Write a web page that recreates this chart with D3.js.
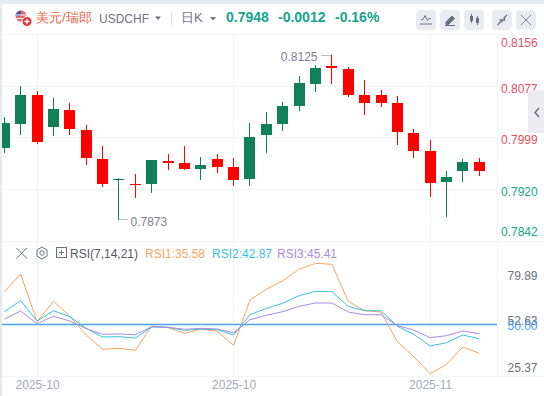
<!DOCTYPE html>
<html>
<head>
<meta charset="utf-8">
<script src="https://cdn.jsdelivr.net/npm/d3@7"></script>
<style>
    html, body { margin: 0; padding: 0; background: #fff; overflow: hidden; }
    svg { display: block; }
    text { font-family: "Liberation Sans", Arial, sans-serif; }
</style>
</head>
<body>
<svg id="chart" width="544" height="396"></svg>
<script>
const UP = '#0f8057';
const DOWN = '#ff0000';
const TEXT_UP = '#13a58a';
const TEXT_DOWN = '#e2525f';

// Daily candles.
const opens = [0.79834, 0.80201, 0.80644, 0.80155, 0.80415, 0.80109, 0.79666, 0.7934, 0.7928, 0.7928, 0.79636, 0.79605, 0.79514, 0.79666, 0.79544, 0.79361, 0.80033, 0.80201, 0.80476, 0.80812, 0.81087, 0.81041, 0.80644, 0.80644, 0.80522, 0.80063, 0.79788, 0.79315, 0.79483, 0.7962];
const closes = [0.80216, 0.80644, 0.79926, 0.8043, 0.80124, 0.79682, 0.79284, 0.79356, 0.79265, 0.79651, 0.79605, 0.79514, 0.79575, 0.79544, 0.79346, 0.80002, 0.80201, 0.80476, 0.80827, 0.81056, 0.81056, 0.80644, 0.80522, 0.80522, 0.80079, 0.79788, 0.793, 0.79391, 0.7962, 0.7948];
const highs = [0.80308, 0.80781, 0.80705, 0.80598, 0.80522, 0.80186, 0.79865, 0.79376, 0.79437, 0.79651, 0.79743, 0.79865, 0.79697, 0.79743, 0.79682, 0.80216, 0.80384, 0.80537, 0.80934, 0.81102, 0.8125, 0.81071, 0.80873, 0.8072, 0.80628, 0.80124, 0.79956, 0.79483, 0.79666, 0.79682];
const lows = [0.79758, 0.80033, 0.79895, 0.80018, 0.80033, 0.79574, 0.79239, 0.7873, 0.79071, 0.79147, 0.79498, 0.79498, 0.79346, 0.79452, 0.79254, 0.79254, 0.79758, 0.80094, 0.80399, 0.80689, 0.80812, 0.80613, 0.80338, 0.8046, 0.7988, 0.79682, 0.79086, 0.7878, 0.79315, 0.79407];

const rsi1 = [66.4, 75.25, 51.4, 61.6, 54.1, 44.75, 37.6, 38.1, 37.1, 49.25, 48.4, 45.6, 47.6, 46.6, 39.6, 62.25, 67.6, 71.9, 77.6, 80.6, 80.1, 61.6, 56.9, 56.25, 41.4, 33.9, 25.37, 30.1, 38.75, 35.58];
const rsi2 = [56.4, 61.9, 51.75, 56.9, 53.9, 48.1, 43.75, 43.9, 43.25, 48.75, 48.6, 47.1, 47.75, 47.4, 44.75, 54.9, 58.1, 60.6, 64.4, 66.6, 66.4, 59.1, 56.9, 56.9, 49.1, 45.1, 39.25, 40.9, 44.75, 42.87];
const rsi3 = [52.75, 56.75, 50.4, 54.1, 51.75, 47.9, 45.1, 45.25, 44.9, 48.9, 48.6, 47.6, 48.1, 47.75, 45.9, 52.4, 54.6, 56.4, 59.1, 60.75, 60.75, 56.25, 54.9, 54.9, 49.4, 47.25, 43.4, 44.4, 46.75, 45.41];

const priceTicks = [0.8156, 0.8077, 0.7999, 0.7920, 0.7842];
const rsiTicks = [79.89, 52.63, 25.37];
const monthLabels = [[2, '2025-10'], [14, '2025-10'], [26, '2025-11']];

const svg = d3.select('#chart');

const plot = { left: 2, right: 497, top: 34, mid: 241, bottom: 376 };

const x = d3.scaleLinear().domain([0, 29]).range([4.3, 479.3]);
const y = d3.scaleLinear().domain([0.7842, 0.8156]).range([240.6, 35]);
const yRsi = d3.scaleLinear().domain([24.25, 91.75]).range([376, 241]);

const px = v => Math.floor(v) + 0.5;

// Page frame and card.
svg.append('rect').attr('width', 544).attr('height', 396).attr('fill', '#e6ebf2');
svg.append('path').attr('d', 'M2,396V8Q2,4 6,4H544V396Z').attr('fill', '#fff');

// Grid.
const grid = svg.append('g').attr('stroke', '#f3f4f6').attr('fill', 'none');
[34, 241, 376].forEach(v => grid.append('line').attr('x1', plot.left).attr('x2', 544).attr('y1', v + 0.5).attr('y2', v + 0.5));
priceTicks.slice(1, 4).forEach(v => {
    grid.append('line').attr('x1', plot.left).attr('x2', plot.right).attr('y1', px(y(v))).attr('y2', px(y(v)));
});
monthLabels.forEach(([i]) => {
    grid.append('line').attr('x1', px(x(i))).attr('x2', px(x(i))).attr('y1', plot.top).attr('y2', plot.bottom);
});
grid.append('line').attr('x1', plot.right + 0.5).attr('x2', plot.right + 0.5).attr('y1', plot.top).attr('y2', plot.bottom);

svg.append('clipPath').attr('id', 'plot-clip').append('rect')
    .attr('x', plot.left).attr('y', plot.top).attr('width', plot.right - plot.left).attr('height', plot.bottom - plot.top);

// Candles.
const candles = svg.append('g').attr('clip-path', 'url(#plot-clip)')
    .selectAll('g').data(d3.range(opens.length)).join('g')
    .attr('fill', i => closes[i] >= opens[i] ? UP : DOWN)
    .attr('stroke', i => closes[i] >= opens[i] ? UP : DOWN);

candles.append('line')
    .attr('x1', i => px(x(i))).attr('x2', i => px(x(i)))
    .attr('y1', i => Math.round(y(highs[i]))).attr('y2', i => Math.round(y(lows[i])));

candles.append('rect')
    .attr('stroke', 'none')
    .attr('x', i => Math.floor(x(i)) - 5)
    .attr('width', 11)
    .attr('y', i => Math.round(y(Math.max(opens[i], closes[i]))))
    .attr('height', i => Math.max(1, Math.round(y(Math.min(opens[i], closes[i]))) - Math.round(y(Math.max(opens[i], closes[i])))));

// High and low notes.
const noteColor = '#7b7e8d';
const iHigh = highs.indexOf(d3.max(highs));
const iLow = lows.indexOf(d3.min(lows));
svg.append('line').attr('x1', px(x(iHigh)) - 10).attr('x2', px(x(iHigh)))
    .attr('y1', Math.round(y(highs[iHigh])) + 0.5).attr('y2', Math.round(y(highs[iHigh])) + 0.5)
    .attr('stroke', noteColor).attr('stroke-dasharray', '1,1');
svg.append('text').attr('x', px(x(iHigh)) - 14).attr('y', Math.round(y(highs[iHigh])) + 6)
    .attr('text-anchor', 'end').attr('font-size', 12).attr('fill', noteColor).text(highs[iHigh].toFixed(4));
svg.append('line').attr('x1', px(x(iLow))).attr('x2', px(x(iLow)) + 10)
    .attr('y1', Math.round(y(lows[iLow])) - 0.5).attr('y2', Math.round(y(lows[iLow])) - 0.5)
    .attr('stroke', noteColor).attr('stroke-dasharray', '1,1');
svg.append('text').attr('x', px(x(iLow)) + 12).attr('y', Math.round(y(lows[iLow])) + 6)
    .attr('font-size', 12).attr('fill', noteColor).text(lows[iLow].toFixed(4));

// RSI lines.
svg.append('g').selectAll('line').data([['#bcdcfb', 2.5], ['#4da6f5', 1]]).join('line')
    .attr('x1', plot.left).attr('x2', plot.right)
    .attr('y1', yRsi(50)).attr('y2', yRsi(50))
    .attr('stroke', d => d[0]).attr('stroke-width', d => d[1]);

const rsiLine = d3.line().x((d, i) => x(i)).y(d => yRsi(d));
svg.append('g').attr('fill', 'none').attr('stroke-width', 1)
    .selectAll('path')
    .data([[rsi1, '#f7a55e'], [rsi2, '#35c2dc'], [rsi3, '#a78be2']])
    .join('path')
    .attr('stroke', d => d[1])
    .attr('d', d => rsiLine(d[0]));

// Axes. Labels are held inside the panel, so the outer ones sit away from their value.
const yAxis = svg.append('g').attr('transform', 'translate(497,0)')
    .call(d3.axisRight(y).tickValues(priceTicks).tickSize(0).tickFormat(d3.format('.4f')))
    .call(g => g.select('.domain').remove());
yAxis.selectAll('text')
    .attr('x', 4).attr('dy', null).attr('dominant-baseline', 'central')
    .attr('y', 0)
    .attr('font-size', 12)
    .attr('font-family', '"Liberation Sans", Arial, sans-serif')
    .attr('fill', d => d >= closes[closes.length - 1] ? TEXT_DOWN : TEXT_UP);
yAxis.selectAll('.tick').attr('transform', d => `translate(0,${Math.max(43, Math.min(232, y(d) + 2))})`);

const rsiAxis = svg.append('g').attr('transform', 'translate(497,0)')
    .call(d3.axisRight(yRsi).tickValues(rsiTicks).tickSize(0).tickFormat(d3.format('.2f')))
    .call(g => g.select('.domain').remove());
rsiAxis.selectAll('text')
    .attr('x', 10.5).attr('dy', null).attr('dominant-baseline', 'central')
    .attr('font-size', 12)
    .attr('font-family', '"Liberation Sans", Arial, sans-serif')
    .attr('fill', '#6c7080');
rsiAxis.selectAll('.tick').attr('transform', d => `translate(0,${Math.max(276, Math.min(368, yRsi(d) + 2))})`);

svg.append('text').attr('x', 507.5).attr('y', yRsi(50) + 1).attr('dominant-baseline', 'central')
    .attr('font-size', 12).attr('fill', '#3f9cf0').text('50.00');

const xAxis = svg.append('g').attr('transform', `translate(0,${plot.bottom})`)
    .call(d3.axisBottom(x).tickValues(monthLabels.map(d => d[0])).tickSize(0)
        .tickFormat(i => monthLabels.find(d => d[0] === i)[1]))
    .call(g => g.select('.domain').remove());
xAxis.selectAll('text')
    .attr('y', 9).attr('dy', null).attr('dominant-baseline', 'central')
    .attr('font-size', 12)
    .attr('font-family', '"Liberation Sans", Arial, sans-serif')
    .attr('fill', '#a6a9b8');

// Header.
const header = svg.append('g');
header.append('circle').attr('cx', 21).attr('cy', 16).attr('r', 5.5).attr('fill', '#e5646a');
header.append('path').attr('d', 'M21,10.5A5.5,5.5 0 0 0 15.5,16H21Z').attr('fill', '#4c5a8f');
header.append('path').attr('d', 'M15.5,15H26.5M16,18.5H26').attr('stroke', '#fff').attr('stroke-width', 1);
header.append('circle').attr('cx', 27).attr('cy', 21.5).attr('r', 5).attr('fill', '#e8303a').attr('stroke', '#fff');
header.append('path').attr('d', 'M24.5,21.5H29.5M27,19V24').attr('stroke', '#fff').attr('stroke-width', 1.4);

header.append('text').attr('x', 36).attr('y', 22).attr('font-size', 13)
    .attr('font-family', '"Noto Sans CJK SC", sans-serif').attr('fill', '#f0653f').text('美元/瑞郎');
header.append('text').attr('x', 99).attr('y', 23).attr('font-size', 12).attr('fill', '#70737f').text('USDCHF');
header.append('path').attr('d', 'M155,16.5H161L158,20Z').attr('fill', '#70737f');
header.append('line').attr('x1', 171.5).attr('x2', 171.5).attr('y1', 12).attr('y2', 25).attr('stroke', '#d8dae0');
header.append('text').attr('x', 181).attr('y', 22).attr('font-size', 13)
    .attr('font-family', '"Noto Sans CJK SC", sans-serif').attr('fill', '#70737f').text('日K');
header.append('path').attr('d', 'M210,17H216L213,20.5Z').attr('fill', '#70737f');
[[226, '0.7948'], [278, '-0.0012'], [335, '-0.16%']].forEach(([tx, label]) => {
    header.append('text').attr('x', tx).attr('y', 22).attr('font-size', 14).attr('font-weight', 'bold')
        .attr('fill', TEXT_UP).text(label);
});

// Toolbar buttons.
const iconColor = '#6a7082';
[416, 440, 464, 492, 516].forEach(bx => {
    header.append('rect').attr('x', bx).attr('y', 10).attr('width', 20).attr('height', 20).attr('rx', 4).attr('fill', '#e9ebf1');
});
header.append('path').attr('d', 'M421,19.5H423L425,15.5L427.5,20.5L429,18.5H431M420,24H432').attr('fill', 'none').attr('stroke', iconColor);
header.append('path').attr('d', 'M446,22L452,16L454.5,18.5L448.5,24.5H446ZM445,25.5H455').attr('fill', iconColor).attr('stroke', iconColor);
header.append('path').attr('d', 'M470,16H473V21H470ZM476,18H479V23H476Z').attr('fill', iconColor);
header.append('path').attr('d', 'M471.5,14V23M477.5,16V25').attr('stroke', iconColor);
header.append('path').attr('d', 'M497.5,25L501,21.5M507,15L503.5,18.5M499.5,20H502V22.5M504.5,17.5V20H502').attr('fill', 'none').attr('stroke', iconColor).attr('stroke-width', 1.3);
header.append('path').attr('d', 'M521,15L531,25M531,15L521,25').attr('stroke', '#858a99').attr('stroke-width', 1);

// Side tab.
svg.append('path').attr('d', 'M544,90H532Q528,90 528,94V133H544Z').attr('fill', '#ebebf0');
svg.append('path').attr('d', 'M539,108L535,112.5L539,117').attr('fill', 'none').attr('stroke', '#6a7082').attr('stroke-width', 1.5);

// RSI legend row.
const legend = svg.append('g');
legend.append('path').attr('d', 'M16.5,248L27,258.5M27,248L16.5,258.5').attr('stroke', iconColor);
legend.append('path').attr('d', 'M42,247L47,250V256L42,259L37,256V250Z').attr('fill', 'none').attr('stroke', iconColor);
legend.append('circle').attr('cx', 42).attr('cy', 253).attr('r', 2.2).attr('fill', 'none').attr('stroke', iconColor);
legend.append('rect').attr('x', 56.5).attr('y', 247.5).attr('width', 10).attr('height', 10).attr('fill', 'none').attr('stroke', iconColor);
legend.append('path').attr('d', 'M61.5,250V255M59,252.5H64').attr('stroke', iconColor);
[[70, 'RSI(7,14,21)', '#55585f'],
 [145, `RSI1:${rsi1[29].toFixed(2)}`, '#f7a55e'],
 [212, `RSI2:${rsi2[29].toFixed(2)}`, '#35c2dc'],
 [277, `RSI3:${rsi3[29].toFixed(2)}`, '#a78be2']].forEach(([tx, label, color]) => {
    legend.append('text').attr('x', tx).attr('y', 257.5).attr('font-size', 12).attr('fill', color).text(label);
});
</script>
</body>
</html>
